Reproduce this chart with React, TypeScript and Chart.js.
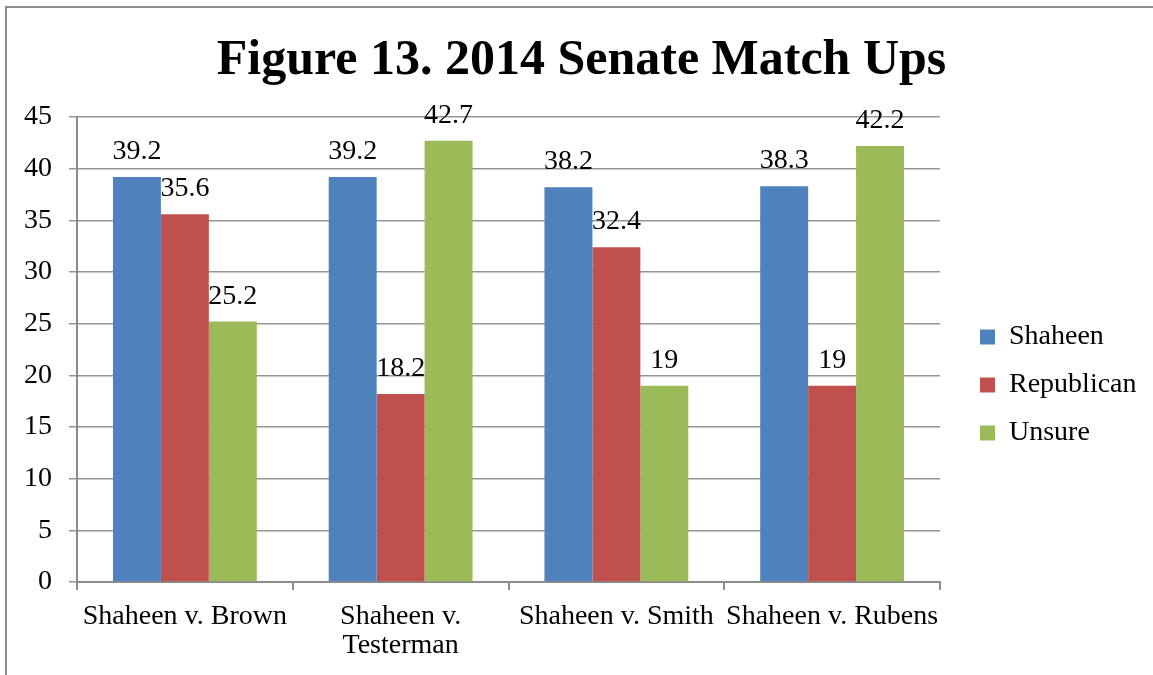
import React, { useEffect, useRef } from "react";
import { Chart, registerables } from "chart.js";

Chart.register(...registerables);

const categories: (string | string[])[] = [
  "Shaheen v. Brown",
  ["Shaheen v.", "Testerman"],
  "Shaheen v. Smith",
  "Shaheen v. Rubens",
];
const shaheen = [39.2, 39.2, 38.2, 38.3];
const republican = [35.6, 18.2, 32.4, 19];
const unsure = [25.2, 42.7, 19, 42.2];
const seriesNames = ["Shaheen", "Republican", "Unsure"];
const seriesColors = ["#4F81BD", "#C0504D", "#9BBB59"];
const yMin = 0;
const yMax = 45;
const yStep = 5;
const titleText = "Figure 13. 2014 Senate Match Ups";

const FONT = "'Liberation Serif', 'Times New Roman', serif";

const dataLabelPlugin = {
  id: "dataLabels",
  afterDatasetsDraw(chart: any) {
    const ctx = chart.ctx;
    ctx.save();
    ctx.font = `28px ${FONT}`;
    ctx.fillStyle = "#000";
    ctx.textAlign = "center";
    ctx.textBaseline = "alphabetic";
    chart.data.datasets.forEach((ds: any, i: number) => {
      const meta = chart.getDatasetMeta(i);
      meta.data.forEach((bar: any, j: number) => {
        ctx.fillText(String(ds.data[j]), bar.x, bar.y - 18);
      });
    });
    ctx.restore();
  },
};

const placementPlugin = {
  id: "placement",
  afterLayout(chart: any) {
    const T = chart.titleBlock;
    if (T) {
      T.left = 0;
      T.right = 1163;
    }
    const L = chart.legend;
    if (L) {
      const pad = 20;
      const colH = (L.columnSizes && L.columnSizes[0] && L.columnSizes[0].height) || 144;
      const H = 400;
      const yStart = 323;
      const top = yStart - (pad + H - colH) / 2;
      L.left = 980 - pad;
      L.right = 1153;
      L.top = top;
      L.bottom = top + H;
    }
  },
};

export default function App() {
  const ref = useRef<HTMLCanvasElement | null>(null);

  useEffect(() => {
    if (!ref.current) return;
    const chart = new Chart(ref.current, {
      type: "bar",
      data: {
        labels: categories as any,
        datasets: [shaheen, republican, unsure].map((d, i) => ({
          label: seriesNames[i],
          data: d,
          backgroundColor: seriesColors[i],
          borderWidth: 0,
          categoryPercentage: 2 / 3,
          barPercentage: 1,
        })),
      },
      options: {
        responsive: false,
        animation: false,
        devicePixelRatio: 1,
        layout: { padding: { left: 0, right: 213, top: 0, bottom: 0 } },
        plugins: {
          title: {
            display: true,
            text: titleText,
            color: "#000",
            font: { family: FONT, size: 50, weight: "bold", lineHeight: 1.2 },
            padding: { top: 31, bottom: 26 },
          },
          legend: {
            position: "chartArea" as any,
            labels: {
              boxWidth: 15,
              boxHeight: 15,
              padding: 20,
              color: "#000",
              font: { family: FONT, size: 28 },
            },
          },
          tooltip: { enabled: false },
        },
        scales: {
          x: {
            grid: {
              display: true,
              drawOnChartArea: false,
              drawTicks: true,
              tickLength: 8,
              color: "#8c8c8c",
              lineWidth: 2,
              offset: true,
            },
            border: { display: true, color: "#8c8c8c", width: 2 },
            ticks: {
              color: "#000",
              font: { family: FONT, size: 28, lineHeight: 29 / 28 },
              padding: 12,
              maxRotation: 0,
              autoSkip: false,
            },
            afterFit: (s: any) => {
              s.height = 93;
            },
          },
          y: {
            min: yMin,
            max: yMax,
            ticks: {
              stepSize: yStep,
              color: "#000",
              font: { family: FONT, size: 28 },
              padding: 17,
            },
            grid: { color: "#959595", lineWidth: 1.5, tickLength: 8 },
            border: { display: true, color: "#8c8c8c", width: 2 },
            afterFit: (s: any) => {
              s.width = 77;
            },
          },
        },
      },
      plugins: [dataLabelPlugin, placementPlugin],
    });
    return () => chart.destroy();
  }, []);

  return (
    <div
      style={{
        position: "fixed",
        left: 0,
        top: 0,
        width: 1153,
        height: 675,
        overflow: "hidden",
        background: "#fff",
      }}
    >
      <canvas ref={ref} width={1153} height={675} style={{ position: "absolute", left: 0, top: 0 }} />
      <div
        style={{
          position: "absolute",
          left: 5,
          top: 6,
          width: 1300,
          height: 800,
          borderLeft: "2px solid #8e8e8e",
          borderTop: "2px solid #8e8e8e",
          pointerEvents: "none",
        }}
      />
    </div>
  );
}
